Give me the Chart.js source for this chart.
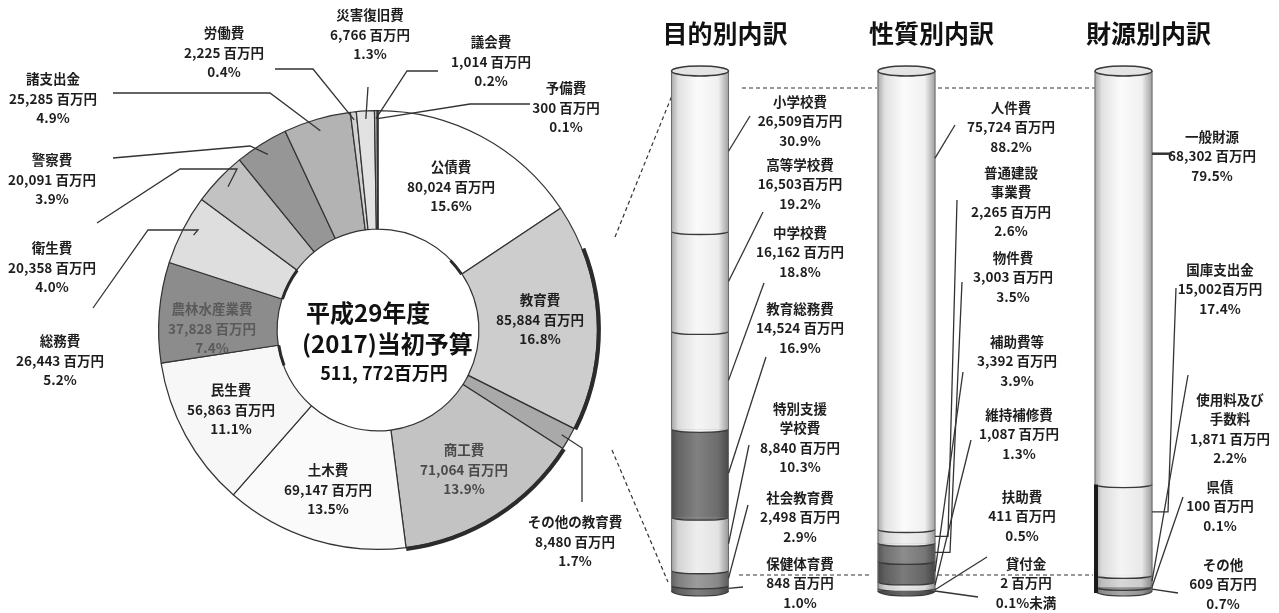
<!DOCTYPE html>
<html lang="ja">
<head>
<meta charset="utf-8">
<script src="https://cdn.jsdelivr.net/npm/chart.js@4.4.0/dist/chart.umd.min.js"></script>
<style>
html,body{margin:0;padding:0;background:#fff;}
#wrap{position:relative;width:1279px;height:613px;overflow:hidden;background:#fff;}
#wrap canvas{position:absolute;left:0;top:0;}
</style>
</head>
<body>
<div id="wrap">
<canvas id="c-donut" width="1279" height="613"></canvas>
<canvas id="c-col1" width="1279" height="613"></canvas>
<canvas id="c-col2" width="1279" height="613"></canvas>
<canvas id="c-col3" width="1279" height="613"></canvas>
</div>
<script>
'use strict';

// ---- data ----
const budgetNames = ['公債費','教育費','その他の教育費','商工費','土木費','民生費','農林水産業費','総務費','衛生費','警察費','諸支出金','労働費','災害復旧費','議会費','予備費'];
const budgetValues = [80024,85884,8480,71064,69147,56863,37828,26443,20358,20091,25285,2225,6766,1014,300];
const budgetPct = ['15.6%','16.8%','1.7%','13.9%','13.5%','11.1%','7.4%','5.2%','4.0%','3.9%','4.9%','0.4%','1.3%','0.2%','0.1%'];
const budgetTitle = ['平成29年度','(2017)当初予算','511, 772百万円'];

const purposeNames = ['小学校費','高等学校費','中学校費','教育総務費','特別支援\n学校費','社会教育費','保健体育費'];
const purposeValues = [26509,16503,16162,14524,8840,2498,848];
const purposePct = ['30.9%','19.2%','18.8%','16.9%','10.3%','2.9%','1.0%'];

const natureNames = ['人件費','普通建設\n事業費','物件費','補助費等','維持補修費','扶助費','貸付金'];
const natureValues = [75724,2265,3003,3392,1087,411,2];
const naturePct = ['88.2%','2.6%','3.5%','3.9%','1.3%','0.5%','0.1%未満'];

const sourceNames = ['一般財源','国庫支出金','使用料及び\n手数料','県債','その他'];
const sourceValues = [68302,15002,1871,100,609];
const sourcePct = ['79.5%','17.4%','2.2%','0.1%','0.7%'];

const columnTitles = ['目的別内訳','性質別内訳','財源別内訳'];

// ---- styles / layout ----
const W = 1279, H = 613;
const FONT = '"Noto Sans CJK JP", "Noto Sans", sans-serif';
const INK = '#1e1e1e';
const budgetColors = ['#ffffff','#cdcdcd','#a9a9a9','#c3c3c3','#fafafa','#f7f7f7','#8c8c8c','#dedede','#c2c2c2','#969696','#b3b3b3','#d2d2d2','#e2e2e2','#c6c6c6','#3a3a3a'];
const purposeColors = ['#fafafa','#f7f7f7','#f4f4f4','#707070','#ececec','#8e8e8e','#6c6c6c'];
const natureColors = ['#fafafa','#eeeeee','#7c7c7c','#696969','#e6e6e6','#9a9a9a','#555555'];
const sourceColors = ['#fafafa','#f3f3f3','#d3d3d3','#8a8a8a','#9c9c9c'];

const noSpace = new Set(['小学校費','高等学校費','国庫支出金']);
const fmt = v => v.toLocaleString('en-US');

const donutLabels = {
  '公債費': {x:451, y:167},
  '教育費': {x:540, y:300},
  '商工費': {x:464, y:450, color:'#4a4a4a'},
  '土木費': {x:328, y:470},
  '民生費': {x:231, y:390},
  '農林水産業費': {x:212, y:309, color:'#5a5a5a'},
  'その他の教育費': {x:575, y:522, lead:[[582,502],[582,448]]},
  '総務費': {x:60, y:341, lead:[[93,308],[148,230],[198,230]]},
  '衛生費': {x:52, y:248, lead:[[97,223],[180,169],[237,169]]},
  '警察費': {x:52, y:160, lead:[[113,158],[250,146]]},
  '諸支出金': {x:53, y:79, lead:[[113,93],[270,93]]},
  '労働費': {x:224, y:33, lead:[[275,69],[313,69]]},
  '災害復旧費': {x:370, y:15, lead:[[368,87]]},
  '議会費': {x:491, y:42, lead:[[438,71],[407,71]]},
  '予備費': {x:566, y:88, lead:[[530,104],[470,104]]},
};
// dark rim accents: slice index, outer/inner, fraction range of the slice
const rimMarks = [
  {i:1, outer:true, from:0.2, to:1, w:4},
  {i:3, outer:true, from:0, to:1, w:4},
  {i:7, outer:false, from:0, to:1, w:3},
  {i:5, outer:false, from:0.7, to:1, w:3},
  {i:0, outer:false, from:0.82, to:1, w:3},
];
const dashLines = [
  [[615,237],[673,93]], [[612,450],[668,582]],
  [[742,88],[877,88]], [[938,88],[1095,88]],
  [[739,575],[872,575]], [[938,575],[1093,575]],
];

const COL_W = 57, COL_TOP = 71, COL_BOTTOM = 591;
const purposeLayout = [
  {x:800, y:102, lead:[[750,116]]},
  {x:800, y:165, lead:[[763,212]]},
  {x:800, y:233, lead:[[764,283]]},
  {x:800, y:309, lead:[[766,357]]},
  {x:800, y:409, lead:[[749,445]]},
  {x:800, y:498, lead:[[748,505]]},
  {x:800, y:564, lead:[[743,587]]},
];
const natureLayout = [
  {x:1011, y:108, lead:[[955,125]], t:0.19},
  {x:1011, y:173, lead:[[957,200],[948,'end']]},
  {x:1013, y:258, lead:[[962,282],[950,'end']]},
  {x:1017, y:342, lead:[[963,372]]},
  {x:1019, y:415, lead:[[971,440]]},
  {x:1022, y:497, lead:[[987,557]]},
  {x:1026, y:564, lead:[[978,597]]},
];
const sourceLayout = [
  {x:1212, y:137, lead:[[1172,'end']], t:0.2, w:2.5},
  {x:1220, y:270, lead:[[1176,288],[1168,'end']], t:0.3},
  {x:1230, y:400, lead:[[1188,375]]},
  {x:1220, y:487, lead:[[1183,497]]},
  {x:1223, y:565, lead:[[1178,593]]},
];

// ---- helpers ----
function shade(hex, f) {
  const n = parseInt(hex.slice(1), 16);
  const t = f < 0 ? 0 : 255, p = Math.abs(f);
  const c = [n >> 16, (n >> 8) & 255, n & 255].map(v => Math.round(v + (t - v) * p));
  return `rgb(${c[0]},${c[1]},${c[2]})`;
}

function cylFill(chart, base) {
  const a = chart.chartArea;
  if (!a) return base;
  const cx = (a.left + a.right) / 2, h = COL_W / 2;
  const g = chart.ctx.createLinearGradient(cx - h, 0, cx + h, 0);
  g.addColorStop(0, shade(base, -0.32));
  g.addColorStop(0.12, shade(base, -0.1));
  g.addColorStop(0.45, shade(base, 0.12));
  g.addColorStop(0.82, shade(base, -0.04));
  g.addColorStop(1, shade(base, -0.36));
  return g;
}

function drawLines(ctx, lines, x, y, lh, color) {
  ctx.fillStyle = color || INK;
  ctx.textAlign = 'center';
  ctx.textBaseline = 'middle';
  lines.forEach((s, k) => ctx.fillText(s, x, y + k * lh));
}

function polyline(ctx, pts, w) {
  ctx.beginPath();
  pts.forEach((p, k) => k ? ctx.lineTo(p[0], p[1]) : ctx.moveTo(p[0], p[1]));
  ctx.lineWidth = w || 1.3;
  ctx.strokeStyle = '#333';
  ctx.stroke();
}

// ---- doughnut ----
const donutDecor = {
  id: 'donutDecor',
  afterDatasetsDraw(chart) {
    const ctx = chart.ctx;
    const arcs = chart.getDatasetMeta(0).data;
    ctx.save();
    rimMarks.forEach(m => {
      const a = arcs[m.i], span = a.endAngle - a.startAngle;
      ctx.beginPath();
      ctx.arc(a.x, a.y, m.outer ? a.outerRadius + 1.5 : a.innerRadius - 0.5,
        a.startAngle + span * m.from, a.startAngle + span * m.to);
      ctx.lineWidth = m.w;
      ctx.strokeStyle = '#2b2b2b';
      ctx.stroke();
    });

    ctx.font = 'bold 13.5px ' + FONT;
    budgetNames.forEach((name, i) => {
      const p = donutLabels[name];
      if (!p) return;
      drawLines(ctx, [name, fmt(budgetValues[i]) + ' 百万円', budgetPct[i]], p.x, p.y, 19.5, p.color);
      if (p.lead) {
        const a = arcs[i], mid = (a.startAngle + a.endAngle) / 2;
        const r = a.outerRadius - (budgetValues[i] < 10000 ? 8 : 12);
        polyline(ctx, p.lead.concat([[a.x + r * Math.cos(mid), a.y + r * Math.sin(mid)]]));
      }
    });

    const cx = arcs[0].x, cy = arcs[0].y;
    ctx.fillStyle = '#111';
    ctx.textBaseline = 'middle';
    ctx.textAlign = 'left';
    ctx.font = 'bold 24px ' + FONT;
    ctx.fillText(budgetTitle[0], cx - 72, cy - 17);
    ctx.fillText(budgetTitle[1], cx - 76, cy + 14);
    ctx.textAlign = 'center';
    ctx.font = 'bold 18px ' + FONT;
    ctx.fillText(budgetTitle[2], cx + 6, cy + 43);

    ctx.setLineDash([4, 3]);
    dashLines.forEach(l => polyline(ctx, l, 1.2));
    ctx.restore();
  }
};

new Chart(document.getElementById('c-donut'), {
  type: 'doughnut',
  data: {
    labels: budgetNames,
    datasets: [{data: budgetValues, backgroundColor: budgetColors, borderColor: '#333', borderWidth: 1.2, hoverOffset: 0}]
  },
  options: {
    responsive: false, animation: false, events: [], cutout: '46%',
    layout: {padding: {left: 158, top: 110, right: W - 598, bottom: H - 550}},
    plugins: {legend: {display: false}, tooltip: {enabled: false}}
  },
  plugins: [donutDecor]
});

// ---- columns ----
function columnDecor(title, names, values, pcts, layout, leftRimFrom) {
  return {
    id: 'columnDecor',
    afterDatasetsDraw(chart) {
      const ctx = chart.ctx;
      const bars = names.map((_, i) => chart.getDatasetMeta(i).data[0]);
      const x = bars[0].x, hw = bars[0].width / 2;
      const seg = bars.map(b => [Math.min(b.y, b.base), Math.max(b.y, b.base)]);
      const top = seg[0][0], bottom = seg[seg.length - 1][1];
      ctx.save();
      // curved boundaries
      bars.forEach((b, i) => {
        const last = i === bars.length - 1;
        const ry = last ? 5 : 3;
        ctx.beginPath();
        ctx.ellipse(x, seg[i][1], hw, ry, 0, 0, Math.PI);
        ctx.fillStyle = b.options.backgroundColor;
        ctx.fill();
        ctx.lineWidth = last ? 1.2 : 1.3;
        ctx.strokeStyle = '#3a3a3a';
        ctx.stroke();
      });
      // sides
      ctx.lineWidth = 1;
      ctx.strokeStyle = '#6a6a6a';
      ctx.beginPath();
      ctx.moveTo(x - hw, top); ctx.lineTo(x - hw, bottom);
      ctx.moveTo(x + hw, top); ctx.lineTo(x + hw, bottom);
      ctx.stroke();
      if (leftRimFrom != null) {
        ctx.lineWidth = 4;
        ctx.strokeStyle = '#1a1a1a';
        ctx.beginPath();
        ctx.moveTo(x - hw + 1, seg[leftRimFrom][0]);
        ctx.lineTo(x - hw + 1, bottom + 2);
        ctx.stroke();
      }
      // top cap
      ctx.beginPath();
      ctx.ellipse(x, top, hw, 5, 0, 0, Math.PI * 2);
      ctx.fillStyle = '#e4e4e4';
      ctx.fill();
      ctx.lineWidth = 1.5;
      ctx.strokeStyle = '#3a3a3a';
      ctx.stroke();
      // title
      ctx.fillStyle = '#111';
      ctx.textAlign = 'center';
      ctx.textBaseline = 'middle';
      ctx.font = 'bold 25px ' + FONT;
      ctx.fillText(title, x + 25, 33);
      // labels and leaders
      ctx.font = 'bold 13.5px ' + FONT;
      names.forEach((name, i) => {
        const p = layout[i];
        const plain = name.replace('\n', '');
        const lines = name.split('\n').concat([fmt(values[i]) + (noSpace.has(plain) ? '' : ' ') + '百万円', pcts[i]]);
        drawLines(ctx, lines, p.x, p.y, 19.3);
        const ex = x + hw, ey = seg[i][0] + (seg[i][1] - seg[i][0]) * (p.t ?? 0.5);
        const pts = p.lead.map(q => [q[0], q[1] === 'end' ? ey : q[1]]);
        polyline(ctx, pts.concat([[ex, ey]]), p.w);
      });
      ctx.restore();
    }
  };
}

function renderColumn(id, cx, title, names, values, pcts, colors, layout, leftRimFrom) {
  const total = values.reduce((a, v) => a + v, 0);
  return new Chart(document.getElementById(id), {
    type: 'bar',
    data: {
      labels: [title],
      datasets: names.map((n, i) => ({
        label: n, data: [values[i]],
        backgroundColor: c => cylFill(c.chart, colors[i]),
        borderWidth: 0, barThickness: COL_W
      }))
    },
    options: {
      responsive: false, animation: false, events: [],
      layout: {padding: {left: cx - 50, right: W - cx - 50, top: COL_TOP, bottom: H - COL_BOTTOM}},
      scales: {
        x: {display: false, stacked: true},
        y: {display: false, stacked: true, reverse: true, min: 0, max: total}
      },
      plugins: {legend: {display: false}, tooltip: {enabled: false}}
    },
    plugins: [columnDecor(title, names, values, pcts, layout, leftRimFrom)]
  });
}

renderColumn('c-col1', 700, columnTitles[0], purposeNames, purposeValues, purposePct, purposeColors, purposeLayout);
renderColumn('c-col2', 906.5, columnTitles[1], natureNames, natureValues, naturePct, natureColors, natureLayout);
renderColumn('c-col3', 1123.5, columnTitles[2], sourceNames, sourceValues, sourcePct, sourceColors, sourceLayout, 1);
</script>
</body>
</html>
